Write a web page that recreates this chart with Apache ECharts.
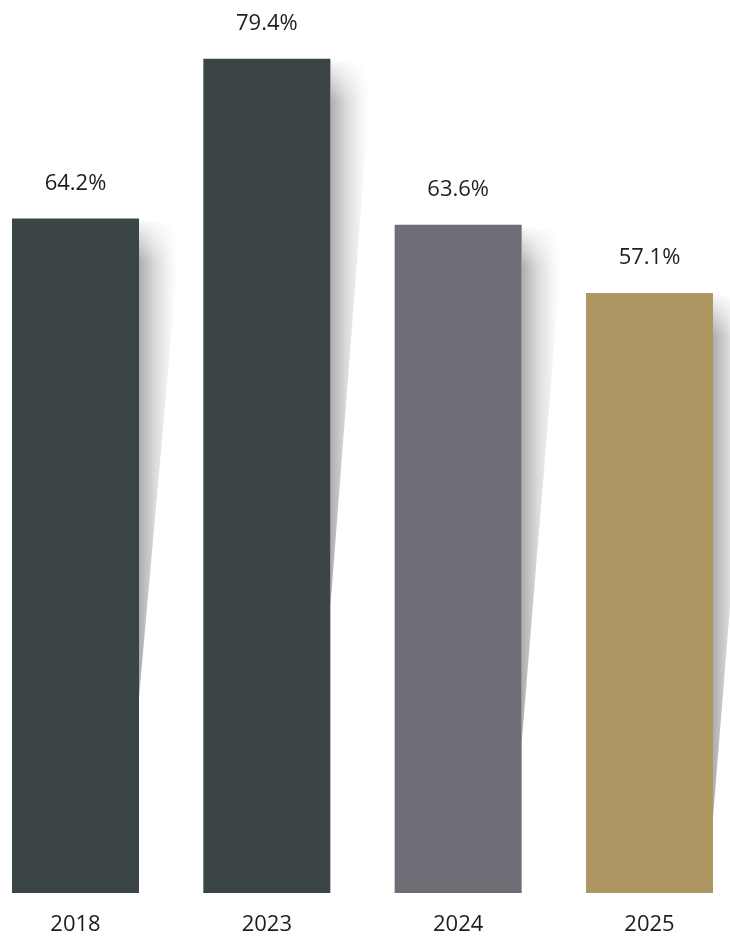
<!DOCTYPE html>
<html>
<head>
<meta charset="utf-8">
<script src="https://cdn.jsdelivr.net/npm/echarts@6/dist/echarts.min.js"></script>
<style>
  html, body { margin: 0; padding: 0; background: #ffffff; }
  #chart { width: 730px; height: 937px; }
</style>
</head>
<body>
<div id="chart"></div>
<script>
// Survey years and share values (percent)
const years = ['2018', '2023', '2024', '2025'];
const shares = [64.2, 79.4, 63.6, 57.1];
const barColors = ['#3b4446', '#3b4446', '#6e6e77', '#ae9763'];
// Level (in percent) where each bar's cast shadow fades out on its right edge
const shadowEnds = [18.6, 27.2, 14.3, 7.2];

const chart = echarts.init(document.getElementById('chart'), null, { renderer: 'canvas' });

const BAR_W = 127;
const positions = years.map((y, i) => i);

// Tapered shadow wedge drawn just right of each bar
function renderShadow(params, api) {
  const top = api.coord([api.value(0), api.value(1)]);
  const end = api.coord([api.value(0), api.value(2)]);
  const right = top[0] + BAR_W / 2;
  const w = 40;
  return {
    type: 'group',
    children: [
      {
        type: 'polygon',
        shape: {
          points: [
            [right, top[1] + 2],
            [right + w * 0.8, top[1] + 6],
            [right + w, top[1] + 30],
            [right, end[1]]
          ]
        },
        style: {
          fill: new echarts.graphic.LinearGradient(0, 0, 1, 0, [
            { offset: 0, color: 'rgba(0,0,0,0.32)' },
            { offset: 0.4, color: 'rgba(0,0,0,0.14)' },
            { offset: 0.8, color: 'rgba(0,0,0,0.03)' },
            { offset: 1, color: 'rgba(0,0,0,0)' }
          ])
        }
      },
      {
        // soft fade at the top of the wedge
        type: 'rect',
        shape: { x: right, y: top[1] - 2, width: w + 4, height: 45 },
        style: {
          fill: new echarts.graphic.LinearGradient(0, 0, 0, 1, [
            { offset: 0, color: 'rgba(255,255,255,1)' },
            { offset: 1, color: 'rgba(255,255,255,0)' }
          ])
        }
      }
    ]
  };
}

chart.setOption({
  animation: false,
  backgroundColor: '#ffffff',
  grid: { left: 0, right: 0, top: 0, bottom: 44, containLabel: false },
  xAxis: {
    type: 'value',
    min: -0.3946,
    max: 3.4208,
    splitLine: { show: false },
    axisLine: { show: false },
    axisTick: { show: false },
    axisLabel: {
      customValues: positions,
      formatter: v => years[Math.round(v)],
      color: '#1e1e1e',
      fontSize: 22,
      fontFamily: 'Open Sans',
      margin: 21
    }
  },
  yAxis: {
    type: 'value',
    min: 0,
    max: 85,
    show: false,
    splitLine: { show: false }
  },
  series: [
    {
      type: 'custom',
      renderItem: renderShadow,
      data: positions.map(i => [i, shares[i], shadowEnds[i]]),
      z: 1,
      silent: true
    },
    {
      type: 'bar',
      barWidth: BAR_W,
      z: 2,
      data: positions.map(i => ({ value: [i, shares[i]], itemStyle: { color: barColors[i] } })),
      label: {
        show: true,
        position: 'top',
        distance: 24,
        color: '#1e1e1e',
        fontSize: 22,
        fontFamily: 'Open Sans',
        formatter: p => p.value[1].toFixed(1) + '%'
      }
    }
  ]
});
</script>
</body>
</html>
